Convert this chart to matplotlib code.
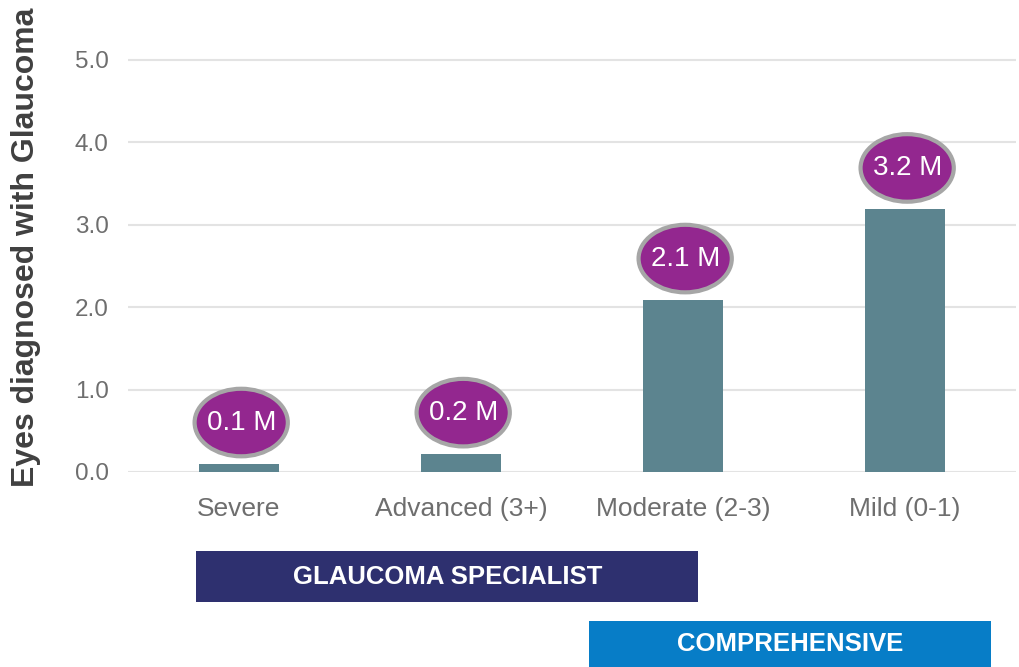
import matplotlib.pyplot as plt
from matplotlib.patches import Ellipse, Rectangle
import matplotlib.transforms as mtransforms

plt.rcParams['font.family'] = ['Liberation Sans', 'DejaVu Sans']

# Dados
categorias = ['Severe', 'Advanced (3+)', 'Moderate (2-3)', 'Mild (0-1)']
valores = [0.10, 0.22, 2.09, 3.19]
rotulos = ['0.1 M', '0.2 M', '2.1 M', '3.2 M']
yticks = [0.0, 1.0, 2.0, 3.0, 4.0, 5.0]

cor_barra = '#5C848F'
cor_elipse = '#93278F'
cor_borda = '#A6A6A6'
cinza = '#6E6E6E'

fig = plt.figure(figsize=(10.19, 6.67), dpi=100)
ax = fig.add_axes([0.1256, 0.2924, 0.8714, 0.630])

x = range(len(categorias))
ax.bar(x, valores, width=0.36, color=cor_barra, zorder=2)

# Elipses com os rotulos
for xi, v, r in zip(x, valores, rotulos):
    cy = v + 0.50
    ax.add_patch(Ellipse((xi + 0.01, cy), 0.42, 0.82, facecolor=cor_elipse,
                         edgecolor=cor_borda, linewidth=3, zorder=3))
    ax.text(xi + 0.01, cy, r, ha='center', va='center', color='white',
            fontsize=20, zorder=4)

ax.set_xlim(-0.5, 3.5)
ax.set_ylim(0, 5.1)
ax.set_yticks(yticks)
ax.set_yticklabels([f'{t:.1f}' for t in yticks])
ax.set_xticks(list(x))
ax.set_xticklabels(categorias)
ax.tick_params(axis='y', length=0, pad=14, labelsize=17.5, labelcolor=cinza)
ax.tick_params(axis='x', length=0, pad=18, labelsize=19, labelcolor=cinza)
ax.grid(axis='y', color='#E3E3E3', linewidth=1.5, zorder=0)
for s in ax.spines.values():
    s.set_visible(False)

fig.text(0.026, 1 - 247 / 667, 'Eyes diagnosed with Glaucoma',
         rotation=90, ha='center', va='center', fontsize=23,
         fontweight='bold', color='#404040')

# Caixas de especialidade
trans = mtransforms.blended_transform_factory(ax.transData, fig.transFigure)
caixas = [
    ('GLAUCOMA SPECIALIST', -0.194, 2.07, 1 - 602 / 667, 1 - 551 / 667, '#2E306F'),
    ('COMPREHENSIVE', 1.577, 3.387, 0.0, 1 - 621 / 667, '#077DC7'),
]
for txt, x0, x1, y0, y1, cor in caixas:
    fig.patches.append(Rectangle((x0, y0), x1 - x0, y1 - y0, transform=trans,
                                 facecolor=cor, edgecolor='none'))
    fig.text((x0 + x1) / 2, (y0 + y1) / 2, txt, transform=trans,
             ha='center', va='center', color='white', fontsize=18.5,
             fontweight='bold', fontstretch='condensed')

fig.savefig('out.png', dpi=100)
